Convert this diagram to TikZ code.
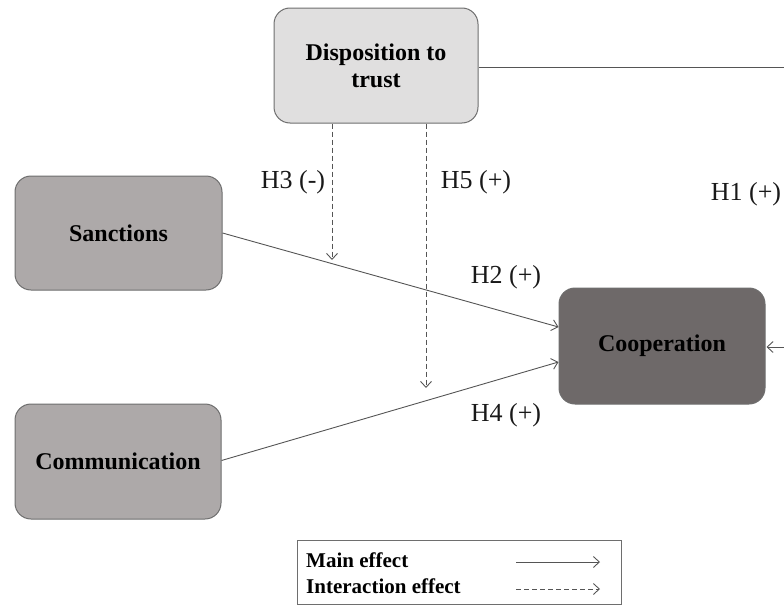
\documentclass[tikz,border=0pt]{standalone}
\usepackage{fontspec}
\setmainfont{Liberation Serif}
\usetikzlibrary{arrows.meta,calc}
\definecolor{boxline}{HTML}{6E6E6E}
\definecolor{linecol}{HTML}{555555}
\definecolor{lightfill}{HTML}{E0DFDF}
\definecolor{midfill}{HTML}{ADA9A9}
\definecolor{darkfill}{HTML}{6E6969}
\begin{document}
\begin{tikzpicture}[x=1pt,y=-1pt,
  box/.style={draw=boxline, rounded corners=16pt, line width=1pt, inner sep=0pt,
    align=center, text=black, font=\fontsize{24}{27}\selectfont\bfseries},
  conn/.style={draw=linecol, line width=0.9pt, -{Straight Barb[length=6pt,width=11pt]}},
  dashconn/.style={conn, dash pattern=on 5pt off 3pt},
  hlabel/.style={font=\fontsize{26}{28}\selectfont, text=black!90, inner sep=0pt},
  legtext/.style={font=\fontsize{21}{23}\selectfont\bfseries, text=black, inner sep=0pt, anchor=base west}]
\clip (0,0) rectangle (784,605);
\useasboundingbox (0,0) rectangle (784,605);

% boxes
\node[box, fill=lightfill, minimum width=204pt, minimum height=115pt] (disp) at (376,65.5) {Disposition to\\trust};
\node[box, fill=midfill, minimum width=207pt, minimum height=114pt] (sanc) at (118.5,233) {Sanctions};
\node[box, fill=midfill, minimum width=206pt, minimum height=115pt] (comm) at (118,461.5) {Communication};
\node[box, fill=darkfill, minimum width=206pt, minimum height=116pt] (coop) at (662,346) {Cooperation};

% main effects
\draw[conn] (sanc.east) -- ($(coop.west)+(0,-19)$);
\draw[conn] ($(comm.east)+(0,-1)$) -- ($(coop.west)+(0,16)$);

% H1 path (cropped at the right edge)
\coordinate (offA) at (800,67);
\coordinate (offB) at (800,347);
\draw[draw=linecol, line width=0.9pt] ($(disp.east)+(0,1.5)$) -- (offA);
\draw[conn] (offB) -- ($(coop.east)+(1,1)$);

% interaction effects
\coordinate (h3end) at (332,260);
\coordinate (h5end) at (426,388);
\draw[dashconn] (disp.south -| h3end) -- (h3end);
\draw[dashconn] (disp.south -| h5end) -- (h5end);

% labels
\node[hlabel] (lh3) at (293,182) {H3 (-)};
\node[hlabel] (lh5) at (476,182) {H5 (+)};
\node[hlabel] (lh2) at (506,277) {H2 (+)};
\node[hlabel] (lh4) at (506,415) {H4 (+)};
\node[hlabel] (lh1) at (746,194) {H1 (+)};

% legend
\node[draw=boxline, line width=1pt, minimum width=324pt, minimum height=64pt, inner sep=0pt] (leg) at (459,572) {};
\node[legtext] (lmain) at (306,567) {Main effect};
\node[legtext] (linter) at (306,593) {Interaction effect};
\coordinate (ms) at (516,562);
\coordinate (me) at (600,562);
\coordinate (is) at (516,589);
\coordinate (ie) at (600,589);
\draw[conn] (ms) -- (me);
\draw[dashconn] (is) -- (ie);
\end{tikzpicture}
\end{document}
